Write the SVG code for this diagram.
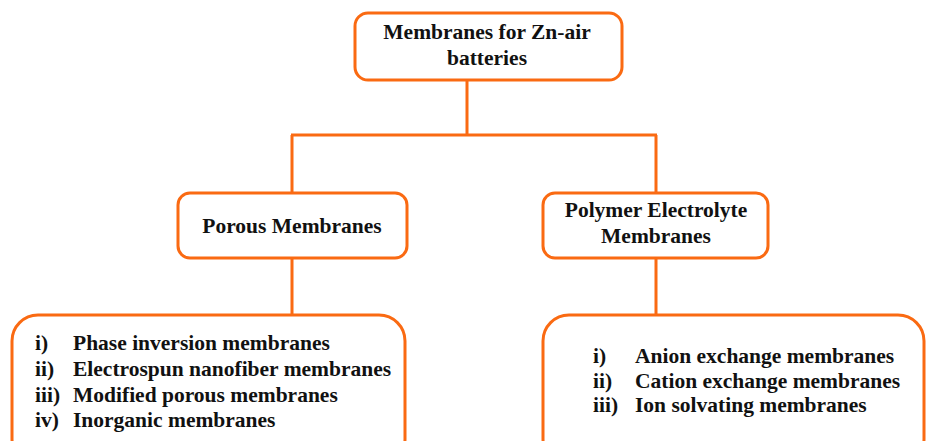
<svg xmlns="http://www.w3.org/2000/svg" width="926" height="441" viewBox="0 0 926 441">
<style>
.box{fill:#fff;stroke:#FA6A12;stroke-width:3}
.con{fill:none;stroke:#FA6A12;stroke-width:3}
</style>
<rect width="926" height="441" fill="#fff"/>
<g id="connectors">
<path class="con" d="M467 80V135M291 135H657M292 135V193M656 135V193M292 258V315M656 258V315"/>
</g>
<g id="root">
<rect class="box" x="355" y="13" width="267" height="67" rx="13"/>
<text font-family="Liberation Serif" font-weight="bold" font-size="21.5" fill="#111" text-anchor="middle" x="487" y="39">Membranes for Zn-air</text>
<text font-family="Liberation Serif" font-weight="bold" font-size="21.5" fill="#111" text-anchor="middle" x="487" y="65">batteries</text>
</g>
<g id="porous">
<rect class="box" x="178" y="193" width="229" height="65" rx="12"/>
<text font-family="Liberation Serif" font-weight="bold" font-size="21.5" fill="#111" text-anchor="middle" x="292" y="233">Porous Membranes</text>
</g>
<g id="polymer">
<rect class="box" x="543" y="193" width="225" height="65" rx="12"/>
<text font-family="Liberation Serif" font-weight="bold" font-size="21.5" fill="#111" text-anchor="middle" x="656" y="217">Polymer Electrolyte</text>
<text font-family="Liberation Serif" font-weight="bold" font-size="21.5" fill="#111" text-anchor="middle" x="656" y="243">Membranes</text>
</g>
<g id="porous-list">
<rect class="box" x="12" y="315" width="393" height="150" rx="26"/>
<text font-family="Liberation Serif" font-weight="bold" font-size="21.5" fill="#111" x="35" y="350">i)</text>
<text font-family="Liberation Serif" font-weight="bold" font-size="21.5" fill="#111" x="73" y="350">Phase inversion membranes</text>
<text font-family="Liberation Serif" font-weight="bold" font-size="21.5" fill="#111" x="35" y="376">ii)</text>
<text font-family="Liberation Serif" font-weight="bold" font-size="21.5" fill="#111" x="73" y="376">Electrospun nanofiber membranes</text>
<text font-family="Liberation Serif" font-weight="bold" font-size="21.5" fill="#111" x="35" y="402">iii)</text>
<text font-family="Liberation Serif" font-weight="bold" font-size="21.5" fill="#111" x="73" y="402">Modified porous membranes</text>
<text font-family="Liberation Serif" font-weight="bold" font-size="21.5" fill="#111" x="35" y="427">iv)</text>
<text font-family="Liberation Serif" font-weight="bold" font-size="21.5" fill="#111" x="73" y="427">Inorganic membranes</text>
</g>
<g id="polymer-list">
<rect class="box" x="543" y="315" width="381" height="150" rx="26"/>
<text font-family="Liberation Serif" font-weight="bold" font-size="21.5" fill="#111" x="593" y="363">i)</text>
<text font-family="Liberation Serif" font-weight="bold" font-size="21.5" fill="#111" x="635" y="363">Anion exchange membranes</text>
<text font-family="Liberation Serif" font-weight="bold" font-size="21.5" fill="#111" x="593" y="388">ii)</text>
<text font-family="Liberation Serif" font-weight="bold" font-size="21.5" fill="#111" x="635" y="388">Cation exchange membranes</text>
<text font-family="Liberation Serif" font-weight="bold" font-size="21.5" fill="#111" x="593" y="412">iii)</text>
<text font-family="Liberation Serif" font-weight="bold" font-size="21.5" fill="#111" x="635" y="412">Ion solvating membranes</text>
</g>
</svg>
